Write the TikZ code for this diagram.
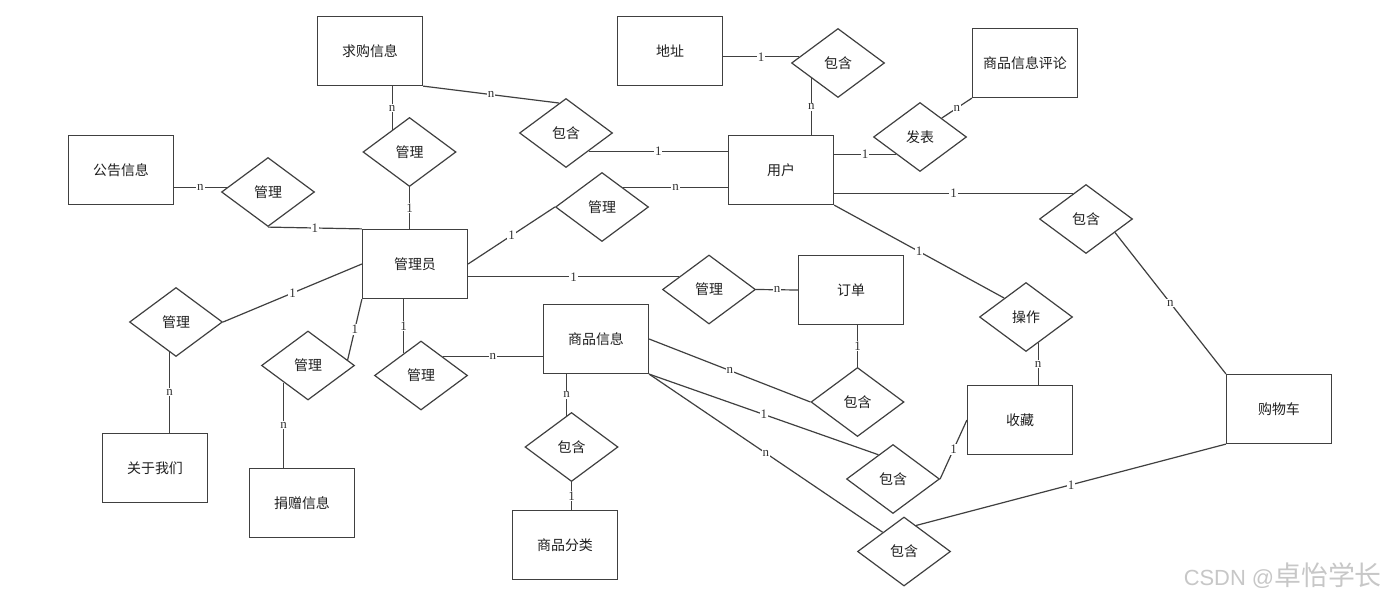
\documentclass[tikz,border=0pt]{standalone}
\usepackage{fontspec}
\setmainfont{Liberation Serif}
\newfontfamily\cjk{Noto Sans CJK SC}
\newfontfamily\wmsans{Liberation Sans}
\usetikzlibrary{shapes.geometric}
\begin{document}
\begin{tikzpicture}[x=1bp,y=-1bp,
  ent/.style={draw=black!75, line width=1.2bp, minimum width=105bp, minimum height=69bp, inner sep=0pt, font=\cjk\fontsize{14}{14}\selectfont, text=black!88},
  rel/.style={diamond, draw=black!75, line width=1.2bp, minimum width=93bp, minimum height=69bp, inner sep=0pt, font=\cjk\fontsize{14}{14}\selectfont, text=black!88},
  conn/.style={draw=black!75, line width=1.2bp},
  lbl/.style={fill=white, inner sep=1pt, font=\fontsize{13}{13}\selectfont, text=black!80}]
\useasboundingbox (0,0) rectangle (1386,597);
\fill[white] (0,0) rectangle (1386,597);
% entities
\node[ent] (qg)  at (370,51)   {求购信息};
\node[ent] (gg)  at (121,170)  {公告信息};
\node[ent] (gly) at (415,264)  {管理员};
\node[ent] (dz)  at (670,51)   {地址};
\node[ent] (yh)  at (781,170)  {用户};
\node[ent] (pl)  at (1025,63)  {商品信息评论};
\node[ent] (dd)  at (851,290)  {订单};
\node[ent] (sp)  at (596,339)  {商品信息};
\node[ent] (fl)  at (565,545)  {商品分类};
\node[ent] (gy)  at (155,468)  {关于我们};
\node[ent] (jz)  at (302,503)  {捐赠信息};
\node[ent] (sc)  at (1020,420) {收藏};
\node[ent] (gwc) at (1279,409) {购物车};
% relations
\node[rel] (d1)  at (409.5,152)  {管理};
\node[rel] (d2)  at (268,192)    {管理};
\node[rel] (d3)  at (566,133)    {包含};
\node[rel] (d4)  at (838,63)     {包含};
\node[rel] (d5)  at (920,137)    {发表};
\node[rel] (d6)  at (602,207)    {管理};
\node[rel] (d7)  at (709,289.5)  {管理};
\node[rel] (d8)  at (1086,219)   {包含};
\node[rel] (d9)  at (1026,317)   {操作};
\node[rel] (d10) at (176,322)    {管理};
\node[rel] (d11) at (308,365.5)  {管理};
\node[rel] (d12) at (421,375.5)  {管理};
\node[rel] (d13) at (571.5,447)  {包含};
\node[rel] (d14) at (857.5,402)  {包含};
\node[rel] (d15) at (893,479)    {包含};
\node[rel] (d16) at (904,551.5)  {包含};
% connectors
\draw[conn] (d1.128) -- node[lbl]{n} (d1.128 |- qg.south);
\draw[conn] (d1.south) -- node[lbl]{1} (d1.south |- gly.north);
\draw[conn] (gg.east |- d2.174) -- node[lbl]{n} (d2.174);
\draw[conn] (d2.south) -- node[lbl]{1} (gly.north west);
\draw[conn] (qg.south east) -- node[lbl]{n} (d3.103);
\draw[conn] (d3.-39) -- node[lbl]{1} (d3.-39 -| yh.west);
\draw[conn] (d4.171) -- node[lbl]{1} (d4.171 -| dz.east);
\draw[conn] (d4.210) -- node[lbl]{n} (d4.210 |- yh.north);
\draw[conn] (d5.216) -- node[lbl]{1} (d5.216 -| yh.east);
\draw[conn] (d5.41) -- node[lbl]{n} (pl.south west);
\draw[conn] (gly.east) -- node[lbl]{1} (d6.west);
\draw[conn] (d6.42) -- node[lbl]{n} (d6.42 -| yh.west);
\draw[conn] (d7.157) -- node[lbl]{1} (d7.157 -| gly.east);
\draw[conn] (d7.east) -- node[lbl]{n} (dd.west);
\draw[conn] (yh.south east) -- node[lbl]{1} (d9.139);
\draw[conn] (d8.117) -- node[lbl]{1} (d8.117 -| yh.east);
\draw[conn] (d8.-25) -- node[lbl]{n} (gwc.north west);
\draw[conn] (d9.295) -- node[lbl]{n} (d9.295 |- sc.north);
\draw[conn] (gly.west) -- node[lbl]{1} (d10.east);
\draw[conn] ([xshift=14.5bp]gy.north |- d10.257) -- node[lbl]{n} ([xshift=14.5bp]gy.north);
\draw[conn] (gly.south west) -- node[lbl]{1} (d11.8);
\draw[conn] (d11.215) -- node[lbl]{n} (d11.215 |- jz.north);
\draw[conn] (d12.128) -- node[lbl]{1} (d12.128 |- gly.south);
\draw[conn] (d12.41) -- node[lbl]{n} (d12.41 -| sp.west);
\draw[conn] (d13.99) -- node[lbl]{n} (d13.99 |- sp.south);
\draw[conn] (d13.south) -- node[lbl]{1} (d13.south |- fl.north);
\draw[conn] (sp.east) -- node[lbl]{n} (d14.west);
\draw[conn] (sp.south east) -- node[lbl]{1} (d15.121);
\draw[conn] (sp.south east) -- node[lbl]{n} (d16.138);
\draw[conn] (d14.north) -- node[lbl]{1} (d14.north |- dd.south);
\draw[conn] (d15.east) -- node[lbl]{1} (sc.west);
\draw[conn] (d16.65) -- node[lbl]{1} (gwc.south west);
% watermark
\node[anchor=east, text=black!22, inner sep=0pt] (wm) at (1382,576) {\wmsans\fontsize{22}{22}\selectfont CSDN @\cjk\fontsize{27}{27}\selectfont 卓怡学长};
\end{tikzpicture}
\end{document}
